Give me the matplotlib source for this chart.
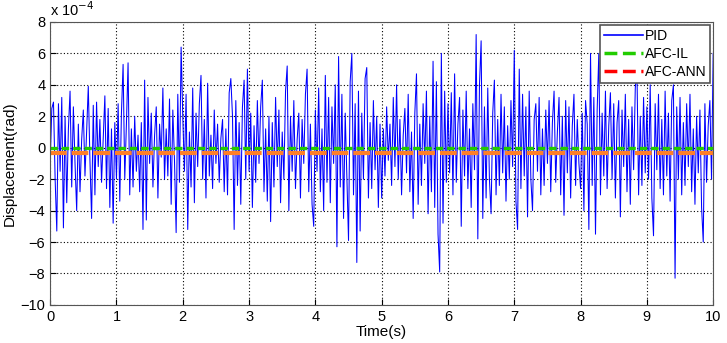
import numpy as np
import matplotlib.pyplot as plt
from matplotlib.lines import Line2D

plt.rcParams['font.family'] = ['Liberation Sans', 'DejaVu Sans']

# PID-förskjutning (enhet 1e-4 rad), 40 punkter per sekund
pid = [
    -1.0, 2.5, 2.9, -2.0, -5.3, 2.8, -1.5, 3.2, -5.1, 2.0, -3.5, 1.2, 3.6, -2.5, 2.6, -1.0, -4.0, 1.5, -2.8, 0.5,
    2.4, -1.8, 1.0, 3.9, -0.8, -4.5, 2.7, -3.0, 2.9, -1.2, 1.8, -2.2, 0.6, 3.3, -2.6, 2.5, -3.8, 1.2, -4.8, 1.6,
    -2.0, 2.8, -3.4, 2.2, 5.3, -2.0, 1.5, 5.4, -3.0, 1.2, -2.5, 2.0, -1.5, 0.8, -2.8, 1.6, -5.2, 4.3, -4.6, 3.2,
    -1.0, 2.2, -2.5, 0.8, 2.6, -3.2, 1.5, -0.6, 3.8, -2.0, 1.2, -1.8, 3.1, -3.6, 2.4, -0.8, -5.4, 3.4, -2.2, 6.4,
    2.0, -1.5, 3.4, -5.2, 1.0, -2.5, 3.8, -3.5, 2.2, -1.2, 2.8, 4.6, -2.0, 1.8, -3.2, 4.1, -1.8, 0.8, -2.6, 2.4,
    -1.0, 1.5, -2.2, 0.6, 1.8, -2.8, 1.2, -3.0, 3.5, 4.4, 2.0, -5.2, 3.0, -2.4, 1.6, -3.6, 2.6, 4.3, -2.0, 5.0,
    -1.5, 2.2, -3.8, 1.4, -2.2, 3.0, -1.0, 2.6, 4.3, -2.8, 1.2, -3.4, 2.0, -4.7, 1.6, -2.5, 3.2, -1.2, 2.4, -3.5,
    1.0, -2.0, 3.6, 5.2, -4.0, 2.0, -1.5, 3.0, -2.6, 0.5, 2.2, -3.2, 1.8, -1.0, 3.4, 5.0, -2.8, 1.5, -3.6, -5.0,
    2.4, -1.5, 3.8, -2.8, 1.2, -4.0, 4.6, -2.2, 3.2, -3.5, 2.6, -1.0, 4.0, -6.3, 5.8, -2.5, 3.4, -4.5, 2.2, -1.8,
    -5.9, 4.2, 6.0, -3.0, 2.8, -7.3, 3.6, -5.3, 2.2, -2.0, 4.4, 5.1, -3.2, 1.6, -2.6, 3.0, -1.4, 2.0, -3.8, 1.5,
    -3.2, 1.2, -1.8, 2.6, -0.8, 1.5, -2.4, 3.2, -1.2, 4.0, -2.0, 1.8, -3.0, 0.8, 2.5, -1.6, 3.4, -2.8, 1.0, -4.5,
    2.2, 4.7, -3.6, 1.5, -2.4, 2.8, -1.0, 3.6, -4.2, 2.0, -2.8, 5.5, -3.8, 4.2, -5.5, -7.9, 6.0, -4.8, 3.6, -2.2,
    2.8, -1.6, 3.5, -3.0, 4.7, -2.2, 1.5, 3.2, -5.0, 2.4, -1.8, 3.6, -2.6, 1.2, -3.8, 2.8, -1.4, 7.2, -5.8, 4.0,
    6.8, -4.5, 2.6, -3.2, 3.8, -2.0, -4.2, 2.2, 4.3, -3.0, 1.8, -2.4, 3.4, -1.6, 2.6, -3.4, 1.4, -2.0, 3.0, -1.2,
    6.2, -3.4, -5.2, 5.0, -2.6, 3.4, -1.8, 2.6, -4.4, 3.6, -2.0, -4.0, 1.8, 2.8, -1.5, 3.2, -3.0, 1.2, -2.4, 2.4,
    -1.0, 3.0, -2.8, 1.6, 3.6, -2.2, 1.0, 3.2, -3.0, 2.0, -4.3, 3.0, -1.6, 2.6, -3.2, 1.4, 3.4, -2.4, 1.8, -1.0,
    -2.6, 2.2, -4.0, 3.0, 1.5, -5.2, 6.0, -2.4, 3.2, -5.5, 2.4, 6.0, -3.0, 2.2, -1.8, 3.6, -2.6, 1.4, 3.5, -2.0,
    2.8, -3.2, 1.6, 3.0, -4.4, 2.4, -1.2, 3.4, -2.8, 1.8, -3.6, 2.6, -1.4, 3.8, 5.0, -3.0, 2.0, -2.4, 3.2, -1.6,
    2.6, -2.0, 4.0, -3.2, -5.6, 2.8, -1.4, 3.4, -2.6, 1.8, -3.0, 3.6, -1.8, 2.2, -3.4, 3.0, 4.0, -8.3, 2.6, -2.0,
    3.2, -3.0, 1.6, -2.4, 2.8, -1.2, 3.4, -2.8, 1.2, -3.6, 2.0, -1.6, 2.4, -3.8, -6.0, 2.8, -2.2, 1.4, 3.0, -2.0,
    6.0,
]
t = np.linspace(0, 10, len(pid))

# AFC-IL och AFC-ANN är i stort sett konstanta
t_afc = [0, 10]
afc_il = [0.0, 0.0]
afc_ann = [-0.32, -0.32]

fig = plt.figure(figsize=(7.27, 3.43), dpi=100)
ax = fig.add_axes([0.069, 0.111, 0.912, 0.825])

ax.plot(t, pid, color='#0000ff', linewidth=0.75)
ax.plot(t_afc, afc_ann, color='#ff7f27', linewidth=3, dashes=(4, 1.2))
ax.plot(t_afc, afc_il, color='#22cc00', linewidth=2.4, dashes=(2.2, 1.2))

ax.set_xlim(0, 10)
ax.set_ylim(-10, 8)
ax.set_xticks(range(0, 11))
ax.set_yticks(range(-10, 9, 2))
ax.grid(True, color='black', linestyle=(0, (1, 2)), linewidth=0.8)
ax.tick_params(direction='in', labelsize=10.5, length=4)
ax.set_xlabel('Time(s)', fontsize=11, labelpad=1)
ax.set_ylabel('Displacement(rad)', fontsize=11)
ax.yaxis.set_label_coords(-0.05, 0.5)
ax.text(0.0, 1.01, 'x 10$^{-4}$', transform=ax.transAxes, fontsize=10.5, va='bottom')
for s in ax.spines.values():
    s.set_color('#555555')

handles = [
    Line2D([], [], color='#0000ff', linewidth=1.2),
    Line2D([], [], color='#22cc00', linewidth=2.5, linestyle='--'),
    Line2D([], [], color='#ff0000', linewidth=2.5, linestyle='--'),
]
leg = ax.legend(handles, ['PID', 'AFC-IL', 'AFC-ANN'], loc='upper right', fontsize=10,
                fancybox=False, framealpha=1, edgecolor='#555555', borderaxespad=0.2,
                handlelength=2.8, handletextpad=0.1, labelspacing=0.3, borderpad=0.3)
leg.get_frame().set_linewidth(1.2)

plt.savefig('out.png', dpi=100)
